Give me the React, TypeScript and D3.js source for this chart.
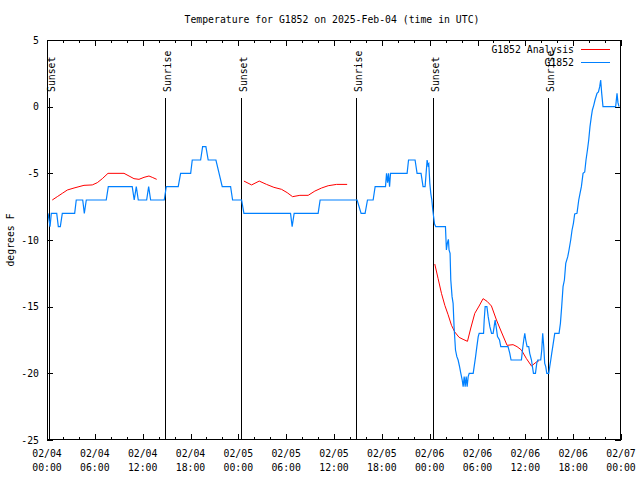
import React from "react";
import * as d3 from "d3";

const TITLE = "Temperature for G1852 on 2025-Feb-04 (time in UTC)";
const Y_LABEL = "degrees F";

// Observed temperatures (hours since 02/04 00:00 UTC, degrees F)
const obsHours = [
  0.13, 0.38, 0.54, 1.22, 1.42, 1.67, 1.92, 3.47, 3.67, 4.48, 4.68, 4.93, 7.43, 7.69,
  10.69, 10.94, 11.2, 11.45, 12.5, 12.75, 13.0, 14.71, 14.96, 16.46, 16.76, 18.02, 18.22,
  19.27, 19.52, 19.93, 20.22, 21.19, 21.98, 23.03, 23.28, 24.41, 24.7, 30.55, 30.75, 31.0,
  34.01, 34.26, 38.9, 39.4, 39.9, 40.2, 40.91, 41.16, 42.46, 42.59, 42.72, 42.84, 42.97,
  43.09, 45.17, 45.35, 46.17, 46.42, 46.92, 47.17, 47.43, 47.68, 47.8, 47.89, 48.02, 48.14,
  48.27, 48.39, 48.61, 48.77, 49.98, 50.1, 50.23, 50.35, 50.43, 50.56, 50.65, 50.81, 50.94,
  51.06, 51.24, 51.41, 51.57, 51.75, 51.91, 52.08, 52.2, 52.33, 52.45, 52.58, 52.7, 52.83,
  52.96, 53.46, 53.58, 53.76, 53.92, 54.09, 54.21, 54.76, 54.84, 54.96, 55.18, 55.34, 55.55,
  55.76, 55.96, 56.09, 56.21, 56.34, 56.51, 56.76, 56.92, 57.83, 58.05, 58.21, 59.51, 59.64,
  59.8, 59.93, 60.05, 60.22, 60.43, 60.55, 60.77, 60.89, 61.02, 61.27, 61.43, 61.56, 61.93,
  62.06, 62.18, 62.31, 62.43, 62.56, 62.69, 62.94, 63.06, 63.19, 63.31, 63.44, 63.69, 64.23,
  64.4, 64.56, 64.73, 64.9, 65.07, 65.32, 65.48, 65.69, 65.86, 66.03, 66.19, 66.48, 66.7,
  66.86, 67.03, 67.24, 67.45, 67.61, 67.79, 67.95, 68.11, 68.28, 68.41, 68.58, 68.74, 68.99,
  69.17, 69.33, 69.45, 69.58, 69.74, 71.33, 71.5, 71.62, 71.75,
];
const obsTemps = [
  -8, -9, -8, -8, -9, -9, -8, -8, -7, -7, -8, -7, -7, -6,
  -6, -7, -6, -7, -7, -6, -7, -7, -6, -6, -5, -5, -4,
  -4, -3, -3, -4, -4, -6, -6, -7, -7, -8, -8, -9, -8,
  -8, -7, -7, -8, -8, -7, -7, -6, -6, -5, -5.7, -5, -6,
  -5, -5, -4, -4, -5, -5, -6, -6, -4, -4.4, -4.3, -5.75, -6.5,
  -7, -7.75, -8.8, -9, -9, -10.75, -10.2, -9.95, -10.75, -11, -13, -14.25, -14.75,
  -16.5, -18.25, -18.75, -19, -19.5, -20, -20.5, -21, -20.25, -21, -20.25, -21, -20.25,
  -20, -20, -19.5, -18.75, -18, -17.25, -17, -17, -16, -15, -15, -15.75, -16.5,
  -17, -17, -16.5, -16, -16.5, -17.25, -17.5, -18, -18, -18.5, -19, -19, -18.25,
  -17.5, -17, -17.5, -18, -18, -18.5, -19, -19.5, -20, -20, -19.25, -19, -19,
  -18.25, -17, -18, -19.25, -19.5, -20, -20, -19.5, -19, -18.5, -18, -17, -17,
  -16.25, -15, -13.5, -13, -11.75, -11.25, -10.75, -10, -9.25, -8.75, -8.05, -8, -7,
  -6.5, -6, -5, -4.9, -4, -3.25, -2.5, -1.5, -0.75, -0.25, 0.1, 0.5, 1,
  1.1, 1.5, 2, 1, 0, 0, 1, 0.3, 0,
];

// Analysis temperatures (null = gap)
const anaHours = [
  0.66, 1.29, 1.92, 2.55, 3.39, 4.01, 4.64, 5.68, 6.31, 6.94, 7.65, 9.66, 10.29, 10.91,
  11.54, 12.17, 12.79, 13.2, 13.76, 19.0,
  24.7, 25.66, 26.62, 27.54, 28.46, 29.42, 30.13, 30.8, 31.72, 32.76, 33.6, 34.44, 35.27,
  36.32, 37.65, 43.0,
  48.64, 49.06, 49.48, 49.9, 50.31, 50.74, 51.15, 51.69, 52.19, 52.74, 53.16, 53.66, 54.2,
  54.7, 55.2, 55.75, 56.38, 57.0, 57.71, 58.46, 58.96, 59.51, 60.14, 60.77, 61.39, 61.72,
];
const anaTemps = [
  -7.0, -6.75, -6.5, -6.25, -6.1, -6.0, -5.9, -5.87, -5.7, -5.4, -5.0, -5.0, -5.2, -5.4,
  -5.45, -5.3, -5.2, -5.3, -5.45, null,
  -5.58, -5.87, -5.58, -5.83, -6.05, -6.2, -6.45, -6.75, -6.65, -6.65, -6.33, -6.1, -5.93,
  -5.83, -5.83, null,
  -11.8, -12.9, -14.0, -14.9, -15.6, -16.4, -16.9, -17.3, -17.45, -17.6, -16.6, -15.5, -14.95,
  -14.4, -14.6, -14.95, -16.0, -16.9, -17.9, -17.85, -18.0, -18.25, -18.9, -19.45, -19.15, -19.05,
];

const sunEventHours = [0.29, 14.79, 24.36, 38.74, 48.43, 62.85];
const sunEventLabels = ["Sunset", "Sunrise", "Sunset", "Sunrise", "Sunset", "Sunrise"];

const xTickHours = [0, 6, 12, 18, 24, 30, 36, 42, 48, 54, 60, 66, 72];
const xTickDates = ["02/04", "02/04", "02/04", "02/04", "02/05", "02/05", "02/05", "02/05", "02/06", "02/06", "02/06", "02/06", "02/07"];
const xTickTimes = ["00:00", "06:00", "12:00", "18:00", "00:00", "06:00", "12:00", "18:00", "00:00", "06:00", "12:00", "18:00", "00:00"];
const yTicks = [5, 0, -5, -10, -15, -20, -25];

const seriesNames = ["G1852 Analysis", "G1852"];
const seriesColors = ["#ff0000", "#0080ff"];

const FONT = "'DejaVu Sans Mono', 'Liberation Mono', monospace";

export default function App() {
  const W = 640, H = 480;
  const L = 47, R = 621, T = 40, B = 440;
  const x = d3.scaleLinear().domain([0, 72]).range([L, R]);
  const y = d3.scaleLinear().domain([-25, 5]).range([B, T]);

  const obs = obsHours.map((h, i) => [h, obsTemps[i]] as [number, number | null]);
  const ana = anaHours.map((h, i) => [h, anaTemps[i]] as [number, number | null]);
  const line = d3
    .line<[number, number | null]>()
    .defined((d) => d[1] !== null)
    .x((d) => x(d[0]))
    .y((d) => y(d[1] as number));

  const minorTicks = d3.range(0, 73, 2);
  const fs = 9.8;

  return (
    <svg
      width={W}
      height={H}
      style={{ position: "absolute", left: 0, top: 0, background: "#fff" }}
      fontFamily={FONT}
      fontSize={fs}
    >
      <rect x={0} y={0} width={W} height={H} fill="#fff" />
      {/* title */}
      <text x={332} y={23} textAnchor="middle" fill="#000">
        {TITLE}
      </text>

      {/* y label */}
      <text
        transform={`translate(14,240) rotate(-90)`}
        textAnchor="middle"
        fill="#000"
      >
        {Y_LABEL}
      </text>

      {/* x ticks (minor + major), top and bottom */}
      <g stroke="#000" strokeWidth={1} shapeRendering="crispEdges">
        {minorTicks.map((h) => {
          const major = h % 6 === 0;
          const len = major ? 6 : 3;
          const xx = Math.round(x(h)) + 0.5;
          return (
            <g key={"xt" + h}>
              <line x1={xx} x2={xx} y1={B} y2={B - len} />
              <line x1={xx} x2={xx} y1={T} y2={T + len} />
            </g>
          );
        })}
        {yTicks.map((v) => {
          const yy = Math.round(y(v)) + 0.5;
          return (
            <g key={"yt" + v}>
              <line x1={L} x2={L + 6} y1={yy} y2={yy} />
              <line x1={R} x2={R - 6} y1={yy} y2={yy} />
            </g>
          );
        })}
      </g>

      {/* tick labels */}
      {yTicks.map((v) => (
        <text key={"yl" + v} x={39} y={y(v) + 3.5} textAnchor="end" fill="#000">
          {v}
        </text>
      ))}
      {xTickHours.map((h, i) => (
        <g key={"xl" + h}>
          <text x={x(h)} y={457} textAnchor="middle" fill="#000">
            {xTickDates[i]}
          </text>
          <text x={x(h)} y={471} textAnchor="middle" fill="#000">
            {xTickTimes[i]}
          </text>
        </g>
      ))}

      {/* sun events */}
      {sunEventHours.map((h, i) => {
        const xx = Math.round(x(h)) + 0.5;
        return (
          <g key={"sun" + i}>
            <line
              x1={xx}
              x2={xx}
              y1={98}
              y2={B}
              stroke="#000"
              strokeWidth={1.5}
              shapeRendering="crispEdges"
            />
            <text
              transform={`translate(${xx + 5},92) rotate(-90)`}
              textAnchor="start"
              fill="#000"
            >
              {sunEventLabels[i]}
            </text>
          </g>
        );
      })}

      {/* data */}
      <path d={line(ana) || ""} fill="none" stroke={seriesColors[0]} strokeWidth={1} />
      <path d={line(obs) || ""} fill="none" stroke={seriesColors[1]} strokeWidth={1.2} />

      {/* legend */}
      {seriesNames.map((name, i) => {
        const ly = 49.5 + i * 13;
        return (
          <g key={"lg" + i}>
            <text x={574} y={ly + 3.5} textAnchor="end" fill="#000">
              {name}
            </text>
            <line x1={581} x2={610} y1={ly} y2={ly} stroke={seriesColors[i]} strokeWidth={1} shapeRendering="crispEdges" />
          </g>
        );
      })}

      {/* border */}
      <rect
        x={L + 0.5}
        y={T + 0.5}
        width={R - L - 1}
        height={B - T - 1}
        fill="none"
        stroke="#000"
        strokeWidth={1}
        shapeRendering="crispEdges"
      />
    </svg>
  );
}
